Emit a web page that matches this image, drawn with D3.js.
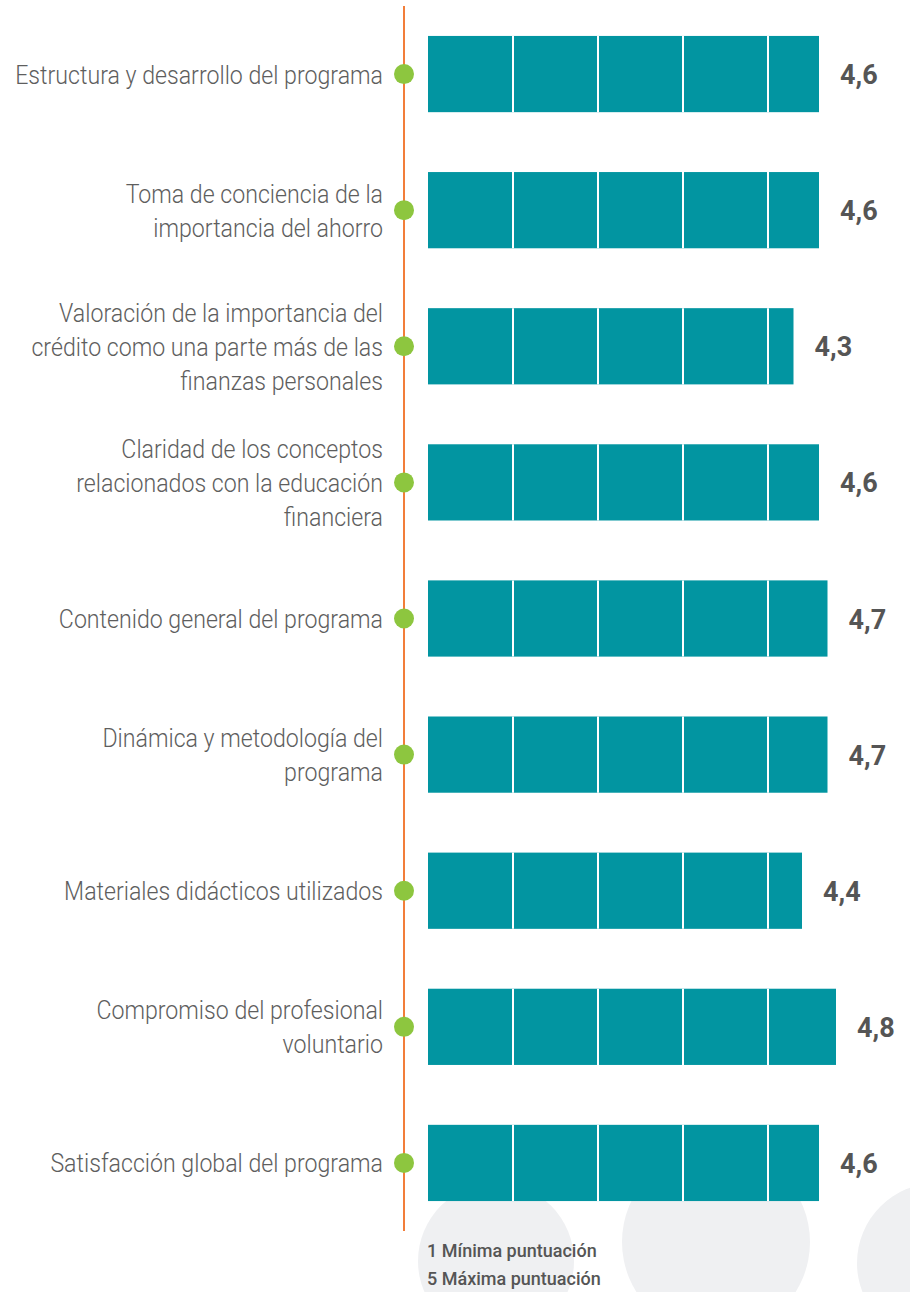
<!DOCTYPE html>
<html>
<head>
<meta charset="utf-8">
<script src="https://cdn.jsdelivr.net/npm/d3@7"></script>
<style>
	body { margin: 0; background: #fff; }
	svg { display: block; }
</style>
</head>
<body>
<div id="chart"></div>
<script>
// categories, each one as its wrapped lines
var categories = [
	["Estructura y desarrollo del programa"],
	["Toma de conciencia de la", "importancia del ahorro"],
	["Valoración de la importancia del", "crédito como una parte más de las", "finanzas personales"],
	["Claridad de los conceptos", "relacionados con la educación", "financiera"],
	["Contenido general del programa"],
	["Dinámica y metodología del", "programa"],
	["Materiales didácticos utilizados"],
	["Compromiso del profesional", "voluntario"],
	["Satisfacción global del programa"]
];
var values = [4.6, 4.6, 4.3, 4.6, 4.7, 4.7, 4.4, 4.8, 4.6];
var unitTicks = [1, 2, 3, 4];
var notes = ["1 Mínima puntuación", "5 Máxima puntuación"];

function init() {
	var w = 910;
	var h = 1292;

	var svg = d3.select("#chart")
		.append("svg")
		.attr("width", w)
		.attr("height", h);

	// light grey circles at the bottom (decoration)
	var deco = [[496, 1261, 78], [716, 1242, 94], [937, 1263, 80]];
	svg.append("g")
		.selectAll("circle")
		.data(deco)
		.join("circle")
			.attr("cx", d => d[0])
			.attr("cy", d => d[1])
			.attr("r", d => d[2])
			.attr("fill", "#eff0f2");

	var idx = d3.range(categories.length);

	var y = d3.scaleBand()
		.domain(idx)
		.range([6, 1231])
		.paddingInner(0.44)
		.paddingOuter(0.22);

	var x = d3.scaleLinear()
		.domain([0, 5])
		.range([428, 853]);

	var lineX = 404;

	// orange vertical line
	svg.append("line")
		.attr("x1", lineX)
		.attr("x2", lineX)
		.attr("y1", y.range()[0])
		.attr("y2", y.range()[1])
		.attr("stroke", "#f27e3a")
		.attr("stroke-width", 2);

	// bars
	svg.append("g")
		.selectAll("rect")
		.data(idx)
		.join("rect")
			.attr("x", x(0))
			.attr("y", i => y(i))
			.attr("width", i => x(values[i]) - x(0))
			.attr("height", y.bandwidth())
			.attr("fill", "#0295a1");

	// white unit dividers inside each bar
	svg.append("g")
		.selectAll("g")
		.data(idx)
		.join("g")
		.selectAll("line")
		.data(i => unitTicks.filter(t => t < values[i]).map(t => ({ i: i, t: t })))
		.join("line")
			.attr("x1", d => x(d.t))
			.attr("x2", d => x(d.t))
			.attr("y1", d => y(d.i))
			.attr("y2", d => y(d.i) + y.bandwidth())
			.attr("stroke", "#fff")
			.attr("stroke-width", 2);

	// green dots
	svg.append("g")
		.selectAll("circle")
		.data(idx)
		.join("circle")
			.attr("cx", lineX)
			.attr("cy", i => y(i) + y.bandwidth() / 2)
			.attr("r", 10)
			.attr("fill", "#8dc63f");

	// category labels
	var lh = 34;
	svg.append("g")
		.selectAll("g")
		.data(idx)
		.join("g")
			.attr("transform", i => `translate(383,${y(i) + y.bandwidth() / 2}) scale(0.89,1)`)
		.append("text")
			.attr("text-anchor", "end")
			.attr("font-family", "Roboto, sans-serif")
			.attr("font-weight", 300)
			.attr("font-size", 26)
			.attr("fill", "#5e5e5e")
		.selectAll("tspan")
		.data(i => categories[i].map((s, k, a) => ({ s: s, dy: (k - (a.length - 1) / 2) * lh + 9.5 })))
		.join("tspan")
			.attr("x", 0)
			.attr("y", d => d.dy)
			.text(d => d.s);

	// value labels
	var fmt = d3.formatLocale({ decimal: ",", thousands: ".", grouping: [3], currency: ["", "€"] }).format(".1f");
	svg.append("g")
		.selectAll("text")
		.data(idx)
		.join("text")
			.attr("x", i => x(values[i]) + 21)
			.attr("y", i => y(i) + y.bandwidth() / 2 + 10)
			.attr("font-family", "Roboto, sans-serif")
			.attr("font-weight", 700)
			.attr("font-size", 27)
			.attr("fill", "#555")
			.text(i => fmt(values[i]));

	// notes
	svg.append("g")
		.selectAll("text")
		.data(notes)
		.join("text")
			.attr("x", 427)
			.attr("y", (d, k) => 1257 + k * 28)
			.attr("font-family", "Roboto, sans-serif")
			.attr("font-weight", 500)
			.attr("font-size", 18)
			.attr("fill", "#555")
			.attr("transform-origin", "427 0")
			.text(d => d);
}

window.onload = init;
</script>
</body>
</html>
